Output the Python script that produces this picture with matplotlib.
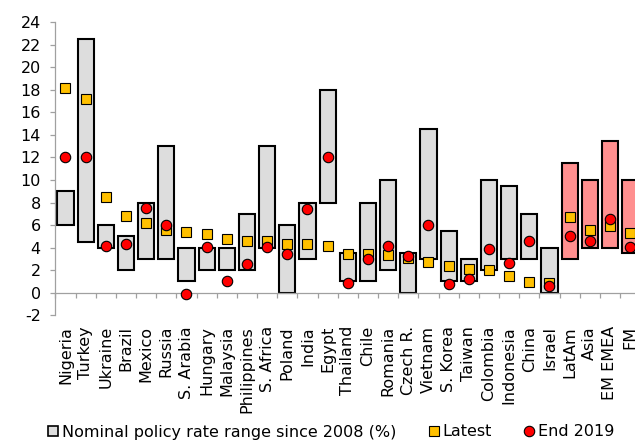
import matplotlib
matplotlib.use("Agg")
import matplotlib.pyplot as plt
import numpy as np
from matplotlib.lines import Line2D

# Policy-rate ranges since 2008 with latest and end-2019 rates (%)
categories = ["Nigeria", "Turkey", "Ukraine", "Brazil", "Mexico", "Russia",
              "S. Arabia", "Hungary", "Malaysia", "Philippines", "S. Africa",
              "Poland", "India", "Egypt", "Thailand", "Chile", "Romania",
              "Czech R.", "Vietnam", "S. Korea", "Taiwan", "Colombia",
              "Indonesia", "China", "Israel", "LatAm", "Asia", "EM EMEA", "FM"]
range_low = [6, 4.5, 4, 2, 3, 3, 1, 2, 2, 2, 4, 0, 3, 8, 1, 1, 2, 0, 3, 1,
             1, 2, 3, 3, 0, 3, 4, 4, 3.5]
range_high = [9, 22.5, 6, 5, 8, 13, 4, 4, 4, 7, 13, 6, 8, 18, 3.5, 8, 10,
              3.5, 14.5, 5.5, 3, 10, 9.5, 7, 4, 11.5, 10, 13.5, 10]
latest = [18.2, 17.2, 8.5, 6.8, 6.15, 5.55, 5.35, 5.2, 4.75, 4.55, 4.55,
          4.35, 4.3, 4.15, 3.45, 3.4, 3.3, 3.05, 2.7, 2.35, 2.1, 2.0, 1.45,
          0.95, 0.85, 6.7, 5.55, 5.9, 5.3]
end_2019 = [12, 12, 4.15, 4.35, 7.5, 6.05, -0.15, 4.05, 1.0, 2.55, 4.05,
            3.45, 7.4, 12, 0.9, 3.0, 4.1, 3.25, 6.05, 0.75, 1.2, 3.9, 2.6,
            4.6, 0.6, 5.0, 4.55, 6.5, 4.05]
aggregates = ["LatAm", "Asia", "EM EMEA", "FM"]
y_ticks = list(range(-2, 25, 2))

plt.rcParams["font.family"] = ["DejaVu Sans"]
FS = 11.5
AXIS_GREY = "#A0A0A0"

x = np.arange(len(categories))
low = np.array(range_low)
high = np.array(range_high)
bar_colors = ["#FF8F8F" if c in aggregates else "#DDDDDD" for c in categories]

fig = plt.figure(figsize=(6.35, 4.43), dpi=100)
ax = fig.add_axes([0.0872, 0.2885, 0.921, 0.6612])

ax.bar(x, high - low, bottom=low, width=0.8, color=bar_colors,
       edgecolor="black", linewidth=1.5, zorder=2)
ax.plot(x, latest, ls="none", marker="s", ms=7, mfc="#FFC000", mec="black",
        mew=0.8, zorder=3)
ax.plot(x, end_2019, ls="none", marker="o", ms=7.5, mfc="#FF0000",
        mec="black", mew=0.8, zorder=4)

ax.set_xlim(-0.5, len(categories) - 0.5)
ax.set_ylim(y_ticks[0], y_ticks[-1])
ax.set_yticks(y_ticks)
ax.set_yticklabels([str(t) for t in y_ticks], fontsize=FS)

for side in ("top", "right"):
    ax.spines[side].set_visible(False)
for side in ("left", "bottom"):
    ax.spines[side].set_color(AXIS_GREY)
    ax.spines[side].set_linewidth(0.9)
ax.spines["bottom"].set_position(("data", 0))

ax.set_xticks(x)
ax.set_xticklabels(categories, rotation=90, fontsize=FS)
ax.set_xticks(np.arange(-0.5, len(categories), 1), minor=True)
ax.tick_params(axis="x", which="major", length=0, pad=24)
ax.tick_params(axis="x", which="minor", length=3.6, width=0.9,
               color=AXIS_GREY, direction="out")
ax.tick_params(axis="y", length=3.6, width=0.9, color=AXIS_GREY,
               direction="out", pad=7)

handles = [
    Line2D([], [], ls="none", marker="s", ms=7.5, mfc="#DDDDDD",
           mec="black", mew=1.2),
    Line2D([], [], ls="none", marker="s", ms=7.5, mfc="#FFC000",
           mec="black", mew=0.8),
    Line2D([], [], ls="none", marker="o", ms=7.5, mfc="#FF0000",
           mec="black", mew=0.8),
]
labels = ["Nominal policy rate range since 2008 (%)", "Latest", "End 2019"]
fig.legend(handles, labels, loc="center left",
           bbox_to_anchor=(0.076, 1 - 432 / 443), ncol=3, frameon=False,
           fontsize=FS, handlelength=0.6, handletextpad=0.25,
           columnspacing=2.05, borderpad=0, borderaxespad=0)

fig.savefig("out.png", dpi=100)
